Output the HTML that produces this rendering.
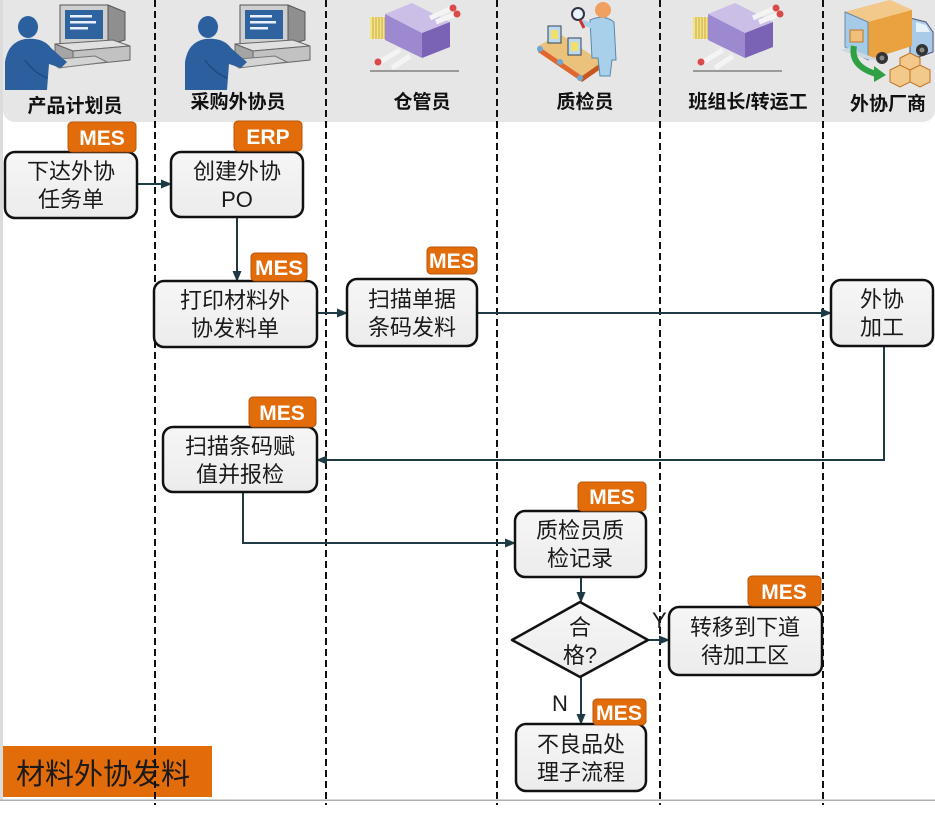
<!DOCTYPE html>
<html><head><meta charset="utf-8">
<style>
html,body{margin:0;padding:0;background:#fff;}
svg{display:block;}
.hd{font-family:"Liberation Sans","Noto Sans CJK SC",sans-serif;font-weight:bold;font-size:19px;fill:#111;text-anchor:middle;}
.bt{font-family:"Liberation Sans","Noto Sans CJK SC",sans-serif;font-size:22px;fill:#1a1a1a;text-anchor:middle;}
.bg{font-family:"Liberation Sans",sans-serif;font-weight:bold;font-size:21px;fill:#fff;text-anchor:middle;}
.lb{font-family:"Liberation Sans","Noto Sans CJK SC",sans-serif;font-size:22px;fill:#1a1a1a;}
</style></head>
<body>
<svg width="935" height="837" viewBox="0 0 935 837" xmlns="http://www.w3.org/2000/svg">
<defs>
<marker id="ar" markerWidth="11" markerHeight="9" refX="10" refY="4.5" orient="auto" markerUnits="userSpaceOnUse">
<path d="M0,0 L11,4.5 L0,9 z" fill="#1e3b45"/>
</marker>
<linearGradient id="bx" x1="0" y1="0" x2="0" y2="1">
<stop offset="0" stop-color="#f6f6f6"/><stop offset="1" stop-color="#ececec"/>
</linearGradient>
<g id="pc">
<!-- monitor side -->
<polygon points="105,5 122,12 122,40 105,45" fill="#8f8f8f" stroke="#555" stroke-width="1"/>
<rect x="57" y="5" width="48" height="40" fill="#cfcfcf" stroke="#555" stroke-width="1"/>
<rect x="62" y="10" width="38" height="29" fill="#2f63a0"/>
<rect x="67" y="15" width="22" height="2.5" fill="#e8f0ff"/>
<rect x="67" y="21" width="26" height="2.5" fill="#e8f0ff"/>
<rect x="67" y="27" width="18" height="2.5" fill="#e8f0ff"/>
<!-- cpu -->
<polygon points="52,44 110,40 127,46 70,51" fill="#e0e0e0" stroke="#666" stroke-width="1"/>
<polygon points="52,44 70,51 70,66 52,58" fill="#a5a5a5" stroke="#666" stroke-width="1"/>
<polygon points="70,51 127,46 127,60 70,66" fill="#c2c2c2" stroke="#666" stroke-width="1"/>
<!-- keyboard -->
<polygon points="44,60 92,56 104,62 56,68" fill="#d4d4d4" stroke="#777" stroke-width="1"/>
<!-- person -->
<ellipse cx="25" cy="27" rx="10" ry="11" fill="#2c5f9e"/>
<path d="M2,90 L2,62 Q5,42 22,39 Q40,37 48,48 L58,57 L64,62 L58,68 L46,64 L44,90 Z" fill="#2c5f9e"/>
<path d="M22,60 Q30,72 44,78" stroke="#1f4a80" stroke-width="1.5" fill="none"/>
</g>
<g id="mach">
<rect x="0" y="17" width="18" height="22" fill="#f2e48a"/>
<path d="M3,17v22M6,17v22M9,17v22M12,17v22M15,17v22" stroke="#c9a93a" stroke-width="1"/>
<polygon points="15,14 42,3 80,22 52,33" fill="#cbbfe8"/>
<polygon points="15,14 52,33 52,58 15,40" fill="#9d89cf"/>
<polygon points="52,33 80,22 80,47 52,58" fill="#7a62b4"/>
<path d="M60,18 L82,8 M66,22 L86,14" stroke="#f4f4f4" stroke-width="5"/>
<circle cx="83" cy="8" r="3.5" fill="#d94a4a"/>
<circle cx="87" cy="14" r="3.5" fill="#d94a4a"/>
<path d="M30,50 L10,62 M40,56 L22,68" stroke="#f4f4f4" stroke-width="5"/>
<circle cx="8" cy="62" r="3.5" fill="#d94a4a"/>
<rect x="0" y="70" width="89" height="2" fill="#9a9a9a"/>
</g>
</defs>

<rect x="0" y="0" width="935" height="837" fill="#fff"/>
<rect x="0" y="0" width="3" height="800" fill="#dcdcdc"/>
<rect x="3" y="-14" width="932" height="136" rx="12" fill="#e6e6e6"/>

<!-- icons -->
<use href="#pc" transform="translate(3,0)"/>
<use href="#pc" transform="translate(183,0)"/>
<use href="#mach" transform="translate(370,0)"/>
<use href="#mach" transform="translate(693,0)"/>

<!-- QC icon -->
<g transform="translate(538,0)">
<polygon points="0,46 22,34 64,62 44,76" fill="#ebc27c"/>
<polygon points="0,46 44,76 44,82 0,52" fill="#e0672e"/>
<polygon points="44,76 64,62 64,68 44,82" fill="#c8561f"/>
<circle cx="2" cy="49" r="3" fill="#6aa8d8"/><circle cx="22" cy="62" r="3" fill="#6aa8d8"/><circle cx="42" cy="78" r="3" fill="#6aa8d8"/>
<rect x="10" y="26" width="13" height="17" fill="#bcd9ee" stroke="#345" stroke-width="1"/>
<rect x="13" y="30" width="7" height="9" fill="#f2e06a"/>
<rect x="30" y="38" width="13" height="17" fill="#bcd9ee" stroke="#345" stroke-width="1"/>
<rect x="33" y="42" width="7" height="9" fill="#f2e06a"/>
<path d="M52,20 Q66,14 76,22 L78,60 L74,60 L72,76 L62,76 L60,58 L54,58 Z" fill="#a8d0ea" stroke="#5a88aa" stroke-width="1"/>
<circle cx="65" cy="10" r="8" fill="#f0a060"/>
<path d="M54,26 L44,22" stroke="#a8d0ea" stroke-width="5"/>
<circle cx="40" cy="14" r="6" fill="#e8f4ff" stroke="#334" stroke-width="2"/>
<path d="M42,20 L46,28" stroke="#c33" stroke-width="3"/>
</g>

<!-- Truck icon -->
<g transform="translate(840,0)">
<polygon points="70,18 86,22 93,32 93,52 70,60" fill="#a9cbe8" stroke="#557" stroke-width="1"/>
<polygon points="76,22 86,25 90,32 76,32" fill="#e8f2fb"/>
<polygon points="5,12 50,0 72,10 72,46 28,60 5,47" fill="#e9a23f"/>
<polygon points="5,12 50,0 72,10 28,22" fill="#f2c98a"/>
<polygon points="5,12 28,22 28,60 5,47" fill="#a6cbe6" stroke="#6a8aa8" stroke-width="1"/>
<rect x="10" y="30" width="13" height="12" fill="#f0c07a" stroke="#b87830" stroke-width="1"/>
<polygon points="0,50 30,60 40,60 8,48" fill="#cfd8e0"/>
<circle cx="42" cy="58" r="6" fill="#333"/><circle cx="42" cy="58" r="2.5" fill="#888"/>
<circle cx="82" cy="50" r="6" fill="#333"/><circle cx="82" cy="50" r="2.5" fill="#888"/>
<path d="M14,46 Q10,66 36,74" stroke="#2fa043" stroke-width="6" fill="none"/>
<polygon points="34,66 46,75 34,82" fill="#2fa043"/>
<g fill="#f2c98a" stroke="#c07020" stroke-width="1">
<polygon points="60,58 70,53 80,58 80,70 70,75 60,70"/>
<polygon points="50,70 60,65 70,70 70,82 60,87 50,82"/>
<polygon points="70,70 80,65 90,70 90,82 80,87 70,82"/>
</g>
</g>

<!-- header text -->
<text class="hd" x="75" y="112">产品计划员</text>
<text class="hd" x="238" y="108">采购外协员</text>
<text class="hd" x="422" y="108">仓管员</text>
<text class="hd" x="585" y="108">质检员</text>
<text class="hd" x="748" y="108">班组长/转运工</text>
<text class="hd" x="888" y="110">外协厂商</text>

<!-- bottom label -->
<rect x="3" y="746" width="209" height="51" fill="#e36c0a"/>
<text x="16" y="784" style="font-family:'Liberation Sans','Noto Sans CJK SC',sans-serif;font-size:29px;fill:#1a1a1a;">材料外协发料</text>

<!-- bottom line -->
<rect x="0" y="799.5" width="935" height="1.5" fill="#b0b0b0"/>

<!-- dashed lanes -->
<g stroke="#111" stroke-width="2" stroke-dasharray="7 4">
<line x1="155" y1="0" x2="155" y2="805"/>
<line x1="326" y1="0" x2="326" y2="805"/>
<line x1="497" y1="0" x2="497" y2="805"/>
<line x1="660" y1="0" x2="660" y2="805"/>
<line x1="823" y1="0" x2="823" y2="805"/>
</g>

<!-- connectors -->
<g stroke="#1e3b45" stroke-width="2" fill="none" marker-end="url(#ar)">
<line x1="137" y1="184" x2="171" y2="184"/>
<line x1="237" y1="217" x2="237" y2="281"/>
<line x1="317" y1="313" x2="347" y2="313"/>
<line x1="477" y1="313" x2="831" y2="313"/>
<polyline points="884,346 884,460 317,460"/>
<polyline points="243,492 243,543 515,543"/>
<line x1="581" y1="577" x2="581" y2="602"/>
<line x1="648" y1="640" x2="669" y2="640"/>
<line x1="581" y1="677" x2="581" y2="724"/>
</g>

<!-- boxes -->
<g fill="url(#bx)" stroke="#111" stroke-width="2.5">
<rect x="5" y="152" width="132" height="66" rx="10"/>
<rect x="171" y="152" width="132" height="65" rx="10"/>
<rect x="154" y="281" width="163" height="66" rx="10"/>
<rect x="347" y="279" width="130" height="67" rx="10"/>
<rect x="831" y="280" width="102" height="66" rx="10"/>
<rect x="163" y="427" width="154" height="65" rx="10"/>
<rect x="515" y="511" width="131" height="66" rx="10"/>
<rect x="669" y="607" width="153" height="68" rx="10"/>
<rect x="516" y="724" width="130" height="67" rx="10"/>
<polygon points="580,602 648,640 580,677 512,640" stroke-linejoin="round"/>
</g>

<!-- box text -->
<text class="bt" x="71" y="179">下达外协</text><text class="bt" x="71" y="207">任务单</text>
<text class="bt" x="237" y="179">创建外协</text><text class="bt" x="237" y="207">PO</text>
<text class="bt" x="235" y="308">打印材料外</text><text class="bt" x="235" y="336">协发料单</text>
<text class="bt" x="412" y="307">扫描单据</text><text class="bt" x="412" y="335">条码发料</text>
<text class="bt" x="882" y="307">外协</text><text class="bt" x="882" y="335">加工</text>
<text class="bt" x="240" y="454">扫描条码赋</text><text class="bt" x="240" y="482">值并报检</text>
<text class="bt" x="580" y="538">质检员质</text><text class="bt" x="580" y="566">检记录</text>
<text class="bt" x="580" y="635">合</text><text class="bt" x="580" y="663">格?</text>
<text class="bt" x="745" y="635">转移到下道</text><text class="bt" x="745" y="663">待加工区</text>
<text class="bt" x="581" y="752">不良品处</text><text class="bt" x="581" y="780">理子流程</text>

<text class="lb" x="652" y="628">Y</text>
<text class="lb" x="552" y="711">N</text>

<!-- badges -->
<g fill="#e36c0a" stroke="#b8560a" stroke-width="1">
<rect x="68" y="122" width="68" height="30" rx="4"/>
<rect x="234" y="121" width="68" height="30" rx="4"/>
<rect x="251" y="253" width="56" height="28" rx="4"/>
<rect x="427" y="247" width="50" height="27" rx="4"/>
<rect x="249" y="397" width="67" height="30" rx="4"/>
<rect x="578" y="482" width="68" height="29" rx="4"/>
<rect x="748" y="576" width="73" height="30" rx="4"/>
<rect x="593" y="699" width="53" height="26" rx="4"/>
</g>
<text class="bg" x="102" y="145">MES</text>
<text class="bg" x="268" y="144">ERP</text>
<text class="bg" x="279" y="275" textLength="48" lengthAdjust="spacingAndGlyphs">MES</text>
<text class="bg" x="452" y="268" textLength="46" lengthAdjust="spacingAndGlyphs">MES</text>
<text class="bg" x="282" y="420">MES</text>
<text class="bg" x="612" y="504">MES</text>
<text class="bg" x="784" y="599">MES</text>
<text class="bg" x="619" y="720" textLength="46" lengthAdjust="spacingAndGlyphs">MES</text>
</svg>
</body></html>
